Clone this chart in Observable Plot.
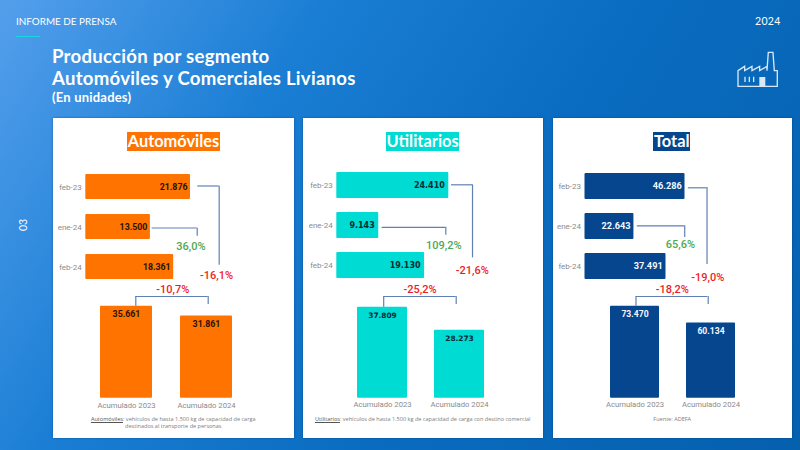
<!DOCTYPE html>
<html lang="es"><head><meta charset="utf-8">
<script src="https://cdn.jsdelivr.net/npm/d3@7"></script>
<script src="https://cdn.jsdelivr.net/npm/@observablehq/plot@0.6"></script>
<style>
html,body{margin:0;padding:0}
#page{position:relative;width:800px;height:450px;overflow:hidden;background:linear-gradient(122deg,#549fec 0%,#1a7ed4 30%,#0a6cc0 60%,#0560ae 100%);font-family:Lato,sans-serif;color:#fff}
.t{position:absolute;white-space:nowrap}
.card{position:absolute;top:118px;height:320px;background:#fff;box-shadow:0 0 2px rgba(0,40,90,.5)}
.card svg{position:absolute;left:0;overflow:visible;background:transparent}
.ttl{position:absolute;top:14.3px;height:18.7px;line-height:18.5px;font-size:16.4px;font-weight:700;color:#fff;text-align:center;font-family:Lato,sans-serif;white-space:nowrap}
.note{position:absolute;top:298px;left:0;right:0;text-align:center;font-family:"Open Sans",sans-serif;font-size:5.55px;line-height:7.4px;color:#7d7d7d}
.note u{color:#555}
</style></head><body><div id="page">
<div class="t" style="left:16px;top:15px;font-size:9.9px;font-family:Lato">INFORME DE PRENSA</div>
<div style="position:absolute;left:16px;top:35.5px;width:24px;height:1px;background:#19d6e0"></div>
<div class="t" style="left:755px;top:15px;font-size:10.5px;font-family:Lato;letter-spacing:.3px">2024</div>
<div class="t" style="left:12px;top:219px;font-size:10.5px;transform:rotate(-90deg);width:22px;text-align:center">03</div>
<div class="t" style="left:52px;top:45px;font-size:18.6px;font-weight:700;line-height:22px;letter-spacing:.26px">Producción por segmento<br>Automóviles y Comerciales Livianos</div>
<div class="t" style="left:52px;top:89px;font-size:13px;font-weight:700;line-height:16px;letter-spacing:.2px">(En unidades)</div>
<svg style="position:absolute;left:736.7px;top:50px" width="41.3" height="38" viewBox="110 150 124 114" fill="none" stroke="#d8e8f6" stroke-width="4">
<path d="M113 259V212L133 199V212L155 199V212L178 199V212L200 199V212L204 157H218L222 212H231V259Z"/>
<path d="M134 230V246M147 230V246M160 230V246"/><path d="M177 231H195V259H177Z" fill="#d8e8f6" stroke="none"/></svg>
</div>
<script>
// ---- data ----
const months = ["feb-23", "ene-24", "feb-24"];
const acumLabels = ["Acumulado 2023", "Acumulado 2024"];
const autosMes = [21876, 13500, 18361];
const autosAcum = [35661, 31861];
const autosVar = ["36,0%", "-16,1%", "-10,7%"];
const utilMes = [24410, 9143, 19130];
const utilAcum = [37809, 28273];
const utilVar = ["109,2%", "-21,6%", "-25,2%"];
const totalMes = [46286, 22643, 37491];
const totalAcum = [73470, 60134];
const totalVar = ["65,6%", "-19,0%", "-18,2%"];

// ---- appearance and annotation layout ----
const fmt = d3.formatLocale({decimal: ",", thousands: ".", grouping: [3], currency: ["$", ""]}).format(",d");
const LINK = "#5f80b4", GREEN = "#4fa852", RED = "#ee1c25", GRAY = "#8b8b8b";
const panels = [
  {name: "Automóviles", mes: autosMes, acum: autosAcum, vars: autosVar, color: "#ff7400", ink: "#2a1200",
   left: 53, width: 240.5, xr: [32.3, 137], yr: [55.3, 161.2], bp: .366, fam: "Roboto", fs: 8.8, fs2: 8.8, dxv: -3,
   long: {start: 23400, reach: 27870, dy: -1, top: 11.7, bot: 14.2, dx: -2.7, ldy: 8},
   short: {start: 13875, reach: 23280, dy: 1, top: 13.8, bot: 3.3, dx: -6.4, ldy: 19.4},
   ax: [47, 179.3], ap: .352, axisDy: 0, ytop: 25.7,
   br: {peak: 39421, right: 36319, dl: 9.3, dr: 1.7, il: 35.3, ir: 24.3, ldx: 46.3},
   tb: [74, 93], note: '<u>Automóviles</u>: vehículos de hasta 1.500 kg de capacidad de carga<br>destinados al transporte de personas'},
  {name: "Utilitarios", mes: utilMes, acum: utilAcum, vars: utilVar, color: "#00dbd3", ink: "#032b33",
   left: 303, width: 239.5, xr: [33.3, 145.3], yr: [54, 160.3], bp: .36, fam: "DejaVu Sans", fs: 8, fs2: 7.4, dxv: -4,
   long: {start: 25000, reach: 29577, dy: -.7, top: 12.3, bot: 20.6, dx: -.3, ldy: 5.3},
   short: {start: 9895, reach: 23757, dy: 1.8, top: 14.7, bot: 3.3, dx: -2, ldy: 19.8},
   ax: [53.7, 181], ap: .35, axisDy: -1, ytop: 26.7,
   br: {peak: 42255, right: 38930, dl: 1.2, dr: -3.3, il: 26.3, ir: 28.3, ldx: 37.5},
   tb: [83.3, 72.7], note: '<u>Utilitarios</u>: vehículos de hasta 1.500 kg de capacidad de carga con destino comercial'},
  {name: "Total", mes: totalMes, acum: totalAcum, vars: totalVar, color: "#05468f", ink: "#f4f8fc",
   left: 552.5, width: 239.5, xr: [31.5, 131.5], yr: [54.7, 161], bp: .36, fam: "Roboto", fs: 9.2, fs2: 8.6, dxv: -3.3,
   long: {start: 47824, reach: 56480, dy: 1.3, top: 14, bot: 15, dx: .7, ldy: 10.7},
   short: {start: 24213, reach: 46157, dy: -.7, top: 12.3, bot: 2, dx: -4.4, ldy: 18.3},
   ax: [56.5, 182.5], ap: .351, axisDy: -1, ytop: 25.7,
   br: {peak: 81217, right: 74830, dl: 1, dr: -2.8, il: 25.7, ir: 27.7, ldx: 37.4},
   tb: [100.8, 37], note: 'Fuente: ADEFA'}
];
const link = {stroke: LINK, strokeWidth: 1.2};
const pct = {fontSize: 11, fontWeight: 500, fontFamily: "Roboto"};
const one = [0];

const page = document.getElementById("page");
for (const p of panels) {
  const card = document.createElement("div");
  card.className = "card";
  card.style.left = p.left + "px";
  card.style.width = p.width + "px";
  const title = document.createElement("div");
  title.className = "ttl";
  title.textContent = p.name;
  title.style.left = p.tb[0] + "px";
  title.style.width = p.tb[1] + "px";
  title.style.background = p.color;
  card.appendChild(title);

  const rows = months.map((m, i) => ({m, v: p.mes[i]}));
  const top = Plot.plot({
    width: p.width, height: 167, marginLeft: p.xr[0], marginTop: 0, marginBottom: 0, marginRight: 0,
    style: {background: "transparent", overflow: "visible"},
    x: {domain: [0, p.mes[0]], range: p.xr, axis: null},
    y: {domain: months, range: p.yr, paddingInner: p.bp, paddingOuter: 0, label: null},
    marks: [
      Plot.barX(rows, {x: "v", y: "m", fill: p.color, rx: 1}),
      Plot.axisY({tickSize: 0, tickPadding: 4, color: GRAY, fontSize: 8, fontFamily: "Roboto", label: null}),
      Plot.text(rows, {x: "v", y: "m", text: d => fmt(d.v), textAnchor: "end", dx: p.dxv, fill: p.ink, fontSize: p.fs, fontWeight: 700, fontFamily: p.fam}),
      // long bracket, first month to last month
      Plot.ruleY(one, {y: () => months[0], x1: () => p.long.start, x2: () => p.long.reach, dy: p.long.dy, ...link}),
      Plot.ruleX(one, {x: () => p.long.reach, y1: () => months[0], y2: () => months[2], insetTop: p.long.top, insetBottom: p.long.bot, ...link}),
      // short bracket, previous month to last month
      Plot.ruleY(one, {y: () => months[1], x1: () => p.short.start, x2: () => p.short.reach, dy: p.short.dy, ...link}),
      Plot.ruleX(one, {x: () => p.short.reach, y1: () => months[1], y2: () => months[1], insetTop: p.short.top, insetBottom: p.short.bot, ...link}),
      Plot.text(one, {x: () => p.short.reach, y: () => months[1], text: () => p.vars[0], dx: p.short.dx, dy: p.short.ldy, fill: GREEN, ...pct}),
      Plot.text(one, {x: () => p.long.reach, y: () => months[2], text: () => p.vars[1], dx: p.long.dx, dy: p.long.ldy, fill: RED, ...pct})
    ]
  });
  top.style.top = "0";
  card.appendChild(top);

  const cols = acumLabels.map((l, i) => ({l, v: p.acum[i]}));
  const H = 135, y0 = 117.7;
  const bottom = Plot.plot({
    width: p.width, height: H, marginLeft: 0, marginRight: 0, marginTop: 0, marginBottom: H - y0,
    style: {background: "transparent", overflow: "visible"},
    x: {domain: acumLabels, range: p.ax, paddingInner: p.ap, paddingOuter: 0, label: null},
    y: {domain: [0, p.acum[0]], range: [y0, p.ytop], axis: null},
    marks: [
      Plot.barY(cols, {x: "l", y: "v", fill: p.color, rx: 1}),
      Plot.axisX({tickSize: 0, tickPadding: 4 + p.axisDy, color: GRAY, fontSize: 7.7, fontFamily: "Roboto", label: null}),
      Plot.text(cols, {x: "l", y: "v", text: d => fmt(d.v), dy: 8, fill: p.ink, fontSize: p.fs2, fontWeight: 700, fontFamily: p.fam}),
      Plot.ruleY(one, {y: () => p.br.peak, x1: () => acumLabels[0], x2: () => acumLabels[1], insetLeft: p.br.il, insetRight: p.br.ir, ...link}),
      Plot.ruleX(one, {x: () => acumLabels[0], y1: () => p.acum[0], y2: () => p.br.peak, dx: p.br.dl, ...link}),
      Plot.ruleX(one, {x: () => acumLabels[1], y1: () => p.br.right, y2: () => p.br.peak, dx: p.br.dr, ...link}),
      Plot.text(one, {x: () => acumLabels[0], y: () => p.br.peak, text: () => p.vars[2], dx: p.br.ldx, dy: -7, fill: RED, ...pct})
    ]
  });
  bottom.style.top = "162px";
  card.appendChild(bottom);

  const note = document.createElement("div");
  note.className = "note";
  note.innerHTML = p.note;
  card.appendChild(note);
  page.appendChild(card);
}
</script>
</body></html>
